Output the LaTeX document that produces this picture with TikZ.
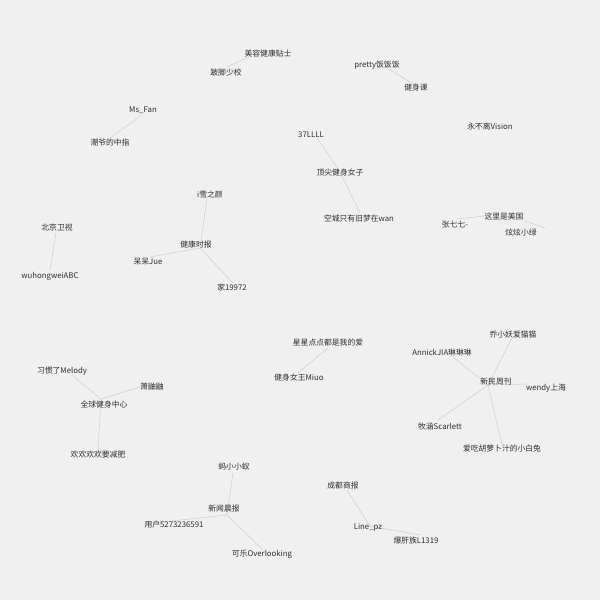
\documentclass[tikz,border=0pt]{standalone}
\usepackage{fontspec}
\newfontfamily\cjk{Noto Sans CJK SC}
\begin{document}
\begin{tikzpicture}[x=1pt,y=-1pt,
  lbl/.style={font=\cjk\fontsize{7.8}{9}\selectfont, text=black!82, inner sep=0pt},
  link/.style={draw=black!18, line width=0.6pt}]
\fill[black!6] (0,0) rectangle (600,600);
\useasboundingbox (0,0) rectangle (600,600);
% vertex points
\coordinate (pa1) at (251,56);  \coordinate (pa2) at (227,67);
\coordinate (pb1) at (389,69);  \coordinate (pb2) at (415,85);
\coordinate (pc1) at (142,115); \coordinate (pc2) at (110,138);
\coordinate (pd1) at (317,138); \coordinate (pd2) at (340,172); \coordinate (pd3) at (360,213);
\coordinate (pe1) at (457,219); \coordinate (pe2) at (485,216); \coordinate (pe3) at (525,221); \coordinate (pe4) at (545,228);
\coordinate (pf1) at (56,232);  \coordinate (pf2) at (50,270);
\coordinate (pg0) at (200,248); \coordinate (pg1) at (207,198); \coordinate (pg2) at (150,257); \coordinate (pg3) at (233,283);
\coordinate (ph1) at (328,348); \coordinate (ph2) at (298,373);
\coordinate (pi0) at (488,385); \coordinate (pi1) at (512,338); \coordinate (pi2) at (453,357);
\coordinate (pi3) at (527,384); \coordinate (pi4) at (438,420); \coordinate (pi5) at (502,445);
\coordinate (pj0) at (101,399); \coordinate (pj1) at (72,375); \coordinate (pj2) at (140,387); \coordinate (pj3) at (98,450);
\coordinate (pk0) at (227,515); \coordinate (pk1) at (233,472); \coordinate (pk2) at (153,523); \coordinate (pk3) at (263,550);
\coordinate (pl1) at (347,490); \coordinate (pl2) at (370,526); \coordinate (pl3) at (420,535);
% connectors
\draw[link] (pa1) -- (pa2);
\draw[link] (pb1) -- (pb2);
\draw[link] (pc1) -- (pc2);
\draw[link] (pd1) -- (pd2) -- (pd3);
\draw[link] (pe1) -- (pe2);
\draw[link] (pe3) -- (pe4);
\draw[link] (pf1) -- (pf2);
\draw[link] (pg0) -- (pg1); \draw[link] (pg0) -- (pg2); \draw[link] (pg0) -- (pg3);
\draw[link] (ph1) -- (ph2);
\foreach \t in {pi1,pi2,pi3,pi4,pi5} \draw[link] (pi0) -- (\t);
\foreach \t in {pj1,pj2,pj3} \draw[link] (pj0) -- (\t);
\foreach \t in {pk1,pk2,pk3} \draw[link] (pk0) -- (\t);
\draw[link] (pl1) -- (pl2) -- (pl3);
% labels
\node[lbl] (la1) at (268,53) {美容健康贴士};
\node[lbl] (la2) at (226,73) {跛脚少校};
\node[lbl] (lb1) at (377,65) {pretty饭饭饭};
\node[lbl] (lb2) at (416,88) {健身课};
\node[lbl] (lc1) at (143,110) {Ms\_Fan};
\node[lbl] (lc2) at (110,143) {潮爷的中指};
\node[lbl] (ld1) at (311,135) {37LLLL};
\node[lbl] (ld2) at (340,173) {顶尖健身女子};
\node[lbl] (ld3) at (359,219) {空城只有旧梦在wan};
\node[lbl] (lv)  at (490,127) {永不离Vision};
\node[lbl] (le1) at (455,225) {张七七-};
\node[lbl] (le2) at (504,217) {这里是美国};
\node[lbl] (le4) at (521,233) {炫炫小绿};
\node[lbl] (lf1) at (57,228) {北京卫视};
\node[lbl] (lf2) at (50,276) {wuhongweiABC};
\node[lbl] (lg1) at (210,195) {i雪之颜};
\node[lbl] (lg0) at (196,245) {健康时报};
\node[lbl] (lg2) at (148,262) {呆呆Jue};
\node[lbl] (lg3) at (232,287) {家19972};
\node[lbl] (lh1) at (328,343) {星星点点都是我的爱};
\node[lbl] (lh2) at (299,378) {健身女王Miuo};
\node[lbl] (li1) at (513,335) {乔小妖爱猫猫};
\node[lbl] (li2) at (442,353) {AnnickJIA琳琳琳};
\node[lbl] (li0) at (496,382) {新民周刊};
\node[lbl] (li3) at (546,388) {wendy上海};
\node[lbl] (li4) at (440,427) {牧涵Scarlett};
\node[lbl] (li5) at (502,449) {爱吃胡萝卜汁的小白兔};
\node[lbl] (lj1) at (62,371) {习惯了Melody};
\node[lbl] (lj2) at (152,387) {萧鼬鼬};
\node[lbl] (lj0) at (104,405) {全球健身中心};
\node[lbl] (lj3) at (98,455) {欢欢欢欢要减肥};
\node[lbl] (lk1) at (234,467) {蚂小小蚁};
\node[lbl] (lk0) at (224,509) {新闻晨报};
\node[lbl] (lk2) at (174,525) {用户5273236591};
\node[lbl] (lk3) at (262,554) {可乐Overlooking};
\node[lbl] (ll1) at (343,486) {成都商报};
\node[lbl] (ll2) at (368,527) {Line\_pz};
\node[lbl] (ll3) at (416,541) {爆肝族L1319};
\end{tikzpicture}
\end{document}
